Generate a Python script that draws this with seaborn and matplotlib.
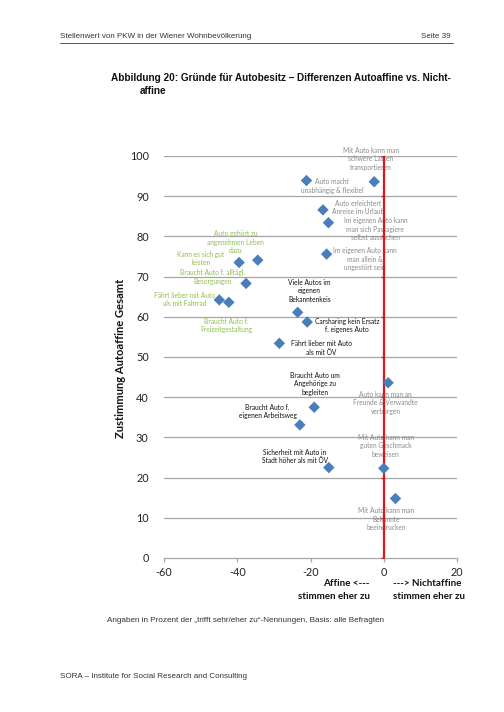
import matplotlib
matplotlib.use("Agg")
import matplotlib.pyplot as plt
import seaborn as sns
import pandas as pd

# ---- data ----
labels = [
    "Mit Auto kann man\nschwere Lasten\ntransportieren",
    "Auto macht\nunabhängig & flexibel",
    "Auto erleichtert\nAnreise im Urlaub",
    "Im eigenen Auto kann\nman sich Passagiere\nselbst aussuchen",
    "Im eigenen Auto kann\nman allein &\nungestört sein",
    "Auto gehört zu\nangenehmen Leben\ndazu",
    "Kann es sich gut\nleisten",
    "Braucht Auto f. alltägl.\nBesorgungen",
    "Fährt lieber mit Auto\nals mit Fahrrad",
    "Braucht Auto f.\nFreizeitgestaltung",
    "Viele Autos im\neigenen\nBekanntenkeis",
    "Carsharing kein Ersatz\nf. eigenes Auto",
    "Fährt lieber mit Auto\nals mit ÖV",
    "Braucht Auto um\nAngehörige zu\nbegleiten",
    "Braucht Auto f.\neigenen Arbeitsweg",
    "Sicherheit mit Auto in\nStadt höher als mit ÖV",
    "Auto kann man an\nFreunde & Verwandte\nverborgen",
    "Mit Auto kann man\nguten Geschmack\nbeweisen",
    "Mit Auto kann man\nBekannte\nbeeindrucken",
]
differenz = [-2.6, -21.1, -16.6, -15.1, -15.6, -34.4, -39.5, -37.6, -44.9, -42.3,
             -23.5, -20.9, -28.5, -19.0, -22.9, -15.0, 1.2, 0.0, 3.2]
zustimmung = [93.6, 93.9, 86.6, 83.4, 75.6, 74.1, 73.5, 68.3, 64.2, 63.6,
              61.1, 58.7, 53.4, 37.5, 33.1, 22.5, 43.6, 22.3, 14.8]
gruppe = ["grau", "grau", "grau", "grau", "grau",
          "gruen", "gruen", "gruen", "gruen", "gruen",
          "schwarz", "schwarz", "schwarz", "schwarz", "schwarz", "schwarz",
          "grau", "grau", "grau"]
label_x = [-3.5, -14.1, -7.0, -2.3, -5.1, -40.4, -50.0, -46.8, -54.3, -42.9,
           -20.3, -10.0, -17.1, -18.8, -31.7, -24.3, 0.5, 0.5, 0.7]
label_y = [99.3, 92.5, 87.2, 81.8, 74.3, 78.5, 74.5, 69.9, 64.3, 57.8,
           66.5, 57.8, 52.2, 43.3, 36.4, 25.2, 38.6, 27.9, 9.7]
x_ticks = [-60, -40, -20, 0, 20]
y_ticks = [0, 10, 20, 30, 40, 50, 60, 70, 80, 90, 100]

farben = {"grau": "#8a8a8a", "gruen": "#8cc04c", "schwarz": "#111111"}

df = pd.DataFrame({"Differenz": differenz, "Zustimmung": zustimmung})

sns.set_style("white")
plt.rcParams["font.family"] = ["Lato", "DejaVu Sans"]

fig = plt.figure(figsize=(5.04, 7.12), dpi=100)
W, H = 504, 712
ax = fig.add_axes([164 / W, 1 - 558 / H, (457 - 164) / W, (558 - 156) / H])

# gridlines
for yv in y_ticks[1:]:
    ax.axhline(yv, color="#a6a6a6", lw=0.9, zorder=1)

# red zero line with small ticks
ax.plot([0, 0], [0, 100], color="#d9181c", lw=1.6, zorder=3, solid_capstyle="butt")
ax.plot([0] * len(y_ticks), y_ticks, linestyle="none", marker=0, markersize=2.5,
        markeredgecolor="#d9181c", markeredgewidth=1.0, zorder=3)

sns.scatterplot(data=df, x="Differenz", y="Zustimmung", marker="D", s=34,
                color="#4a7ebb", edgecolor="none", ax=ax, zorder=4, legend=False)

for lab, lx, ly, g in zip(labels, label_x, label_y, gruppe):
    ax.text(lx, ly, lab, ha="center", va="center", multialignment="center",
            fontsize=4.8, linespacing=1.25, color=farben[g], zorder=2, clip_on=False)

ax.set_xlim(-60, 20)
ax.set_ylim(0, 100)
ax.set_xticks(x_ticks)
ax.set_yticks(y_ticks)
ax.set_xticklabels([str(v) for v in x_ticks])
ax.set_yticklabels([str(v) for v in y_ticks])
ax.set_xlabel("")
ax.set_ylabel("")
for s in ["top", "right", "left"]:
    ax.spines[s].set_visible(False)
ax.spines["bottom"].set_color("#a6a6a6")
ax.spines["bottom"].set_linewidth(0.9)
ax.tick_params(axis="x", length=3, width=0.9, color="#a6a6a6", direction="out",
               labelsize=7.8, labelcolor="#222222", pad=3.5, bottom=True)
ax.tick_params(axis="y", length=0, labelsize=7.8, labelcolor="#222222", pad=11)

# y axis title
fig.text(121 / W, 1 - 358 / H, "Zustimmung Autoaffine Gesamt", rotation=90,
         ha="center", va="center", fontsize=8.0, fontweight="bold", color="#111111")

# x annotations
ax.text(-3.8, -8.0, "Affine <---\nstimmen eher zu", ha="right", va="center",
        multialignment="right", fontsize=7.1, fontweight="bold", linespacing=1.65,
        color="#111111", clip_on=False)
ax.text(2.5, -8.0, "---> Nichtaffine\nstimmen eher zu", ha="left", va="center",
        multialignment="left", fontsize=7.1, fontweight="bold", linespacing=1.65,
        color="#111111", clip_on=False)

# page header / title / footer
arial = ["Liberation Sans", "DejaVu Sans"]
fig.text(60 / W, 1 - 37 / H, "Stellenwert von PKW in der Wiener Wohnbevölkerung",
         ha="left", va="center", fontsize=5.8, family=arial, color="#333333")
fig.text(451 / W, 1 - 37 / H, "Seite 39", ha="right", va="center", fontsize=5.8,
         family=arial, color="#333333")
fig.add_artist(plt.Line2D([60 / W, 453 / W], [1 - 43 / H, 1 - 43 / H],
                          color="#555555", lw=0.7))
fig.text(111 / W, 1 - 78 / H,
         "Abbildung 20: Gründe für Autobesitz – Differenzen Autoaffine vs. Nicht-",
         ha="left", va="center", fontsize=7.2, fontweight="bold", family=arial,
         color="#111111")
fig.text(140 / W, 1 - 91 / H, "affine", ha="left", va="center", fontsize=7.2,
         fontweight="bold", family=arial, color="#111111")
fig.text(107 / W, 1 - 621 / H,
         "Angaben in Prozent der „trifft sehr/eher zu“-Nennungen, Basis: alle Befragten",
         ha="left", va="center", fontsize=5.9, family=arial, color="#333333")
fig.text(60 / W, 1 - 676 / H, "SORA – Institute for Social Research and Consulting",
         ha="left", va="center", fontsize=5.8, family=arial, color="#333333")

fig.savefig("out.png", dpi=100)
